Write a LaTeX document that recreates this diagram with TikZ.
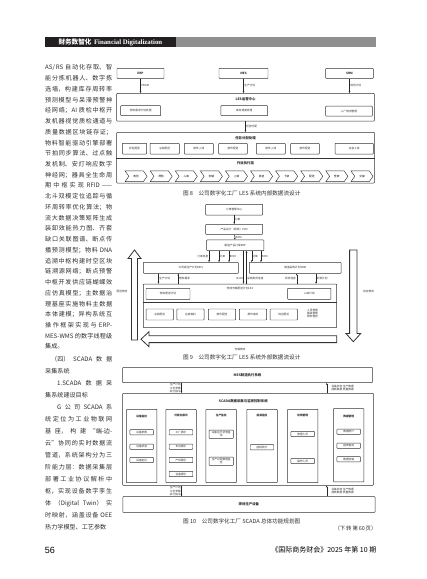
\documentclass[tikz,border=0pt]{standalone}
\usepackage{fontspec}
\setmainfont{Liberation Serif}
\newfontfamily\cjk{Noto Sans CJK SC}
\newfontfamily\numfont{Liberation Sans}
\XeTeXlinebreaklocale "zh"
\XeTeXlinebreakskip=0pt plus 1pt
\usetikzlibrary{shapes.symbols, arrows.meta, positioning, calc}
\definecolor{barGray}{HTML}{8F8F8F}
\definecolor{headBlack}{HTML}{231F20}
\definecolor{lineGray}{HTML}{333333}
\definecolor{textGray}{HTML}{2E2E2E}

\begin{document}
\begin{tikzpicture}[x=1pt, y=-1pt,
    tiny/.style={font=\cjk\fontsize{2.7}{3.3}\selectfont, inner sep=0.6pt, text=textGray},
    block/.style={rectangle, draw=lineGray, line width=0.45pt, inner sep=0pt, align=center,
                  rounded corners=0.6pt, font=\cjk\fontsize{2.7}{3.3}\selectfont, text=textGray},
    frame/.style={rectangle, draw=lineGray, line width=0.5pt, inner sep=0pt, rounded corners=0.6pt},
    heading/.style={font=\cjk\bfseries\fontsize{3.4}{4}\selectfont, inner sep=0pt, text=textGray},
    item/.style={block, minimum width=23.5pt, minimum height=5.3pt},
    panel/.style={frame, minimum width=30.5pt, minimum height=73.4pt},
    chev/.style={signal, signal from=west, signal to=east, signal pointer angle=110,
                 draw=lineGray, line width=0.45pt, minimum width=22pt, minimum height=10.7pt,
                 inner sep=0pt, font=\cjk\fontsize{2.7}{3.3}\selectfont},
    arrow/.style={-{Stealth[length=2pt, width=1.6pt]}, line width=0.4pt, black!85},
    flowarrow/.style={draw=lineGray, line width=0.8pt, fill=white, line join=miter},
    caption/.style={font=\cjk\fontsize{5.6}{6.5}\selectfont, inner sep=0pt, text=textGray},
    body/.style={anchor=north west, text width=67pt, align=justify, inner sep=0pt, text=textGray}
]
    \useasboundingbox (0,0) rectangle (427,579);
    \fill[white] (0,0) rectangle (427,579);

    % page header
    \node[fill=barGray, minimum width=199.7pt, minimum height=9.4pt, inner sep=0pt, anchor=west] (bar) at (176,42) {};
    \node[fill=headBlack, text=white, minimum width=131.7pt, minimum height=9.4pt, inner sep=0pt, anchor=west]
        (head) at (44.3,42) {{\cjk\bfseries\fontsize{6.6}{7}\selectfont 财务数智化}\ {\bfseries\fontsize{6.8}{7}\selectfont Financial Digitalization}};

    % body text
    \node[body, font=\cjk\fontsize{6.1}{10.73}\selectfont] (textA) at (45,64.6) {%
AS/RS 自动化存取、智\linebreak 能分拣机器人、数字拣\linebreak 选墙，构建库存周转率\linebreak
预测模型与呆滞预警神\linebreak 经网络；AI 质检中枢开\linebreak 发机器视觉质检通道与\linebreak
质量数据区块链存证；\linebreak 物料智能驱动引擎部署\linebreak 节拍同步算法、过点触\linebreak
发机制、安灯响应数字\linebreak 神经网；器具全生命周\linebreak 期中枢实现 RFID——\linebreak
北斗双模定位追踪与循\linebreak 环周转率优化算法；物\linebreak 流大数据决策矩阵生成\linebreak
装卸效能热力图、齐套\linebreak 缺口关联图谱、断点传\linebreak 播预测模型；物料 DNA\linebreak
追溯中枢构建时空区块\linebreak 链溯源网络；断点预警\linebreak 中枢开发供应链蝴蝶效\linebreak
应仿真模型；主数据治\linebreak 理基座实施物料主数据\linebreak 本体建模；异构系统互\linebreak
操作框架实现与 ERP-\linebreak MES-WMS 的数字线程级\linebreak 集成。};
    \node[body, font=\cjk\fontsize{6.1}{12}\selectfont] (textB) at (45,355.6) {%
\hspace*{6pt}（四）SCADA 数据\linebreak 采集系统\\
\hspace*{12pt}1.SCADA 数据采\linebreak 集系统建设目标\\
\hspace*{12pt}G 公司 SCADA 系\linebreak 统定位为工业物联网\linebreak 基座，构建“端-边-\linebreak
云”协同的实时数据流\linebreak 管道，系统架构分为三\linebreak 阶能力层：数据采集层\linebreak
部署工业协议解析中\linebreak 枢，实现设备数字孪生\linebreak 体（Digital Twin）实\linebreak
时映射，涵盖设备 OEE\linebreak 热力学模型、工艺参数};

    % figure 8
    \node[block, minimum width=47pt, minimum height=10pt, font=\cjk\bfseries\fontsize{3}{4}\selectfont] (erpA) at (140.5,73.3) {ERP};
    \node[block, minimum width=49pt, minimum height=10pt, font=\cjk\bfseries\fontsize{3}{4}\selectfont] (mesA) at (243.5,73.3) {MES};
    \node[block, minimum width=47.6pt, minimum height=10pt, font=\cjk\bfseries\fontsize{3}{4}\selectfont] (srmA) at (349.5,73.3) {SRM};
    \node[frame, minimum width=257.6pt, minimum height=27.7pt] (center) at (245.5,107.2) {};
    \node[heading] (centerT) at (245.5,99.3) {LES运营中心};
    \node[block, minimum width=40pt, minimum height=10pt] (mrp) at (140.7,110.7) {物料需求计划处理};
    \node[block, minimum width=46.7pt, minimum height=10pt] (stock) at (244.3,110.7) {库存调度处理};
    \node[block, minimum width=46.6pt, minimum height=10pt] (inbound) at (349,111.2) {入厂物流管理};
    \draw[arrow] (erpA) -- node[tiny, right] {PBOM} (erpA |- center.north);
    \draw[arrow] (mesA) -- node[tiny, right] {生产计划} (mesA |- center.north);
    \draw[arrow] (srmA) -- node[tiny, right] {到货计划} (srmA |- center.north);

    \node[frame, minimum width=257.6pt, minimum height=50.7pt] (task) at (245.5,157.65) {};
    \coordinate (split8) at (245.5,158.3);
    \draw[arrow] (center) -- node[tiny, right] {任务分配} (task);
    \node[heading] (taskT) at (245.5,138.3) {任务分配处理};
    \draw[lineGray, line width=0.5pt] (task.west |- split8) -- (task.east |- split8);
    \node[heading] (execT) at (245.5,163.7) {作业执行层};

    \node[block, minimum width=24.4pt, minimum height=10.7pt] (t1) at (134.5,148.7) {拆包配送};
    \node[block, minimum width=29.3pt, minimum height=10.7pt] (t2) at (164.7,148.7) {总装配送};
    \node[block, minimum width=29pt, minimum height=10.7pt] (t3) at (198.8,148.7) {部件上线};
    \node[block, minimum width=28.6pt, minimum height=10.7pt] (t4) at (233,148.7) {部件配送};
    \node[block, minimum width=29pt, minimum height=10.7pt] (t5) at (270.8,148.7) {部件上线};
    \node[block, minimum width=28.6pt, minimum height=10.7pt] (t6) at (305,148.7) {部件配送};
    \node[block, minimum width=38.3pt, minimum height=10.7pt] (t7) at (354.2,148.7) {总装上线};

    \node[chev] (s1) at (136.1,176.3) {收货};
    \node[chev] (s2) at (161.2,176.3) {质检};
    \node[chev] (s3) at (186.3,176.3) {入库};
    \node[chev] (s4) at (211.4,176.3) {存储};
    \node[chev] (s5) at (236.5,176.3) {上架};
    \node[chev] (s6) at (261.6,176.3) {拣选};
    \node[chev] (s7) at (286.7,176.3) {下架};
    \node[chev] (s8) at (311.8,176.3) {配送};
    \node[chev] (s9) at (336.9,176.3) {签收};
    \node[chev] (s10) at (362,176.3) {交接};

    \node[caption] (cap8) at (241.7,193.3) {图 8\quad 公司数字化工厂 LES 系统内部数据流设计};

    % figure 9
    \node[block, minimum width=57pt, minimum height=10.7pt] (order) at (234.2,209.7) {订单管理中心};
    \node[block, minimum width=57pt, minimum height=10pt] (plm) at (234.2,229.3) {产品设计（研发）PLM};
    \node[block, minimum width=57.3pt, minimum height=10.7pt] (erpB) at (235.3,245.3) {制造产品订单ERP};
    \node[block, minimum width=95pt, minimum height=11pt] (mesB) at (190.8,267.8) {公司级生产计划MES};
    \node[block, minimum width=91.7pt, minimum height=11pt] (srmB) at (295.2,267.8) {制造采购计划SRM};
    \node[frame, minimum width=193.4pt, minimum height=43.7pt] (les) at (240,305.85) {};
    \coordinate (split9) at (240,302.7);
    \node[tiny] (lesT) at (240,288.6) {物流仓储配送计划LES};
    \draw[lineGray, line width=0.5pt] (les.west |- split9) -- (les.east |- split9);
    \node[block, minimum width=44pt, minimum height=11pt] (plan) at (168,293.8) {物料配送计划};
    \node[block, minimum width=43.3pt, minimum height=11pt] (receive) at (309.3,293.8) {入库计划};
    \node[block, minimum width=27.3pt, minimum height=11pt] (j1) at (159.7,314.5) {总装配送};
    \node[block, minimum width=27.3pt, minimum height=11pt] (j2) at (190.5,314.5) {总装拣料};
    \node[block, minimum width=27.3pt, minimum height=11pt] (j3) at (222,314.5) {部件配送};
    \node[block, minimum width=27.3pt, minimum height=11pt] (j4) at (253,314.5) {部件拣料};
    \node[block, minimum width=27.3pt, minimum height=11pt] (j5) at (283.7,314.5) {线边配送};
    \node[tiny, align=center] (staff) at (312.5,313.5) {人员管理\\器具管理\\物料管控};

    \draw[arrow] (order) -- node[tiny, right] {订单} (plm);
    \draw[arrow] (plm) -- node[tiny, right] {BOM} (erpB);
    \draw[arrow] ([xshift=-26.3pt]erpB.south) -- node[tiny, left] {订单信息} ([xshift=-26.3pt]erpB.south |- mesB.north);
    \draw[arrow] ([xshift=-16.3pt]erpB.south) -- node[tiny, right] {订单} ([xshift=-16.3pt]erpB.south |- mesB.north);
    \draw[arrow] ([xshift=-6.3pt]erpB.south) -- node[tiny, right] {BOM} ([xshift=-6.3pt]erpB.south |- mesB.north);
    \draw[arrow] ([xshift=16.4pt]erpB.south) -- node[tiny, right] {订单} ([xshift=16.4pt]erpB.south |- srmB.north);
    \draw[arrow] ([xshift=25.6pt]erpB.south) -- node[tiny, right] {BOM} ([xshift=25.6pt]erpB.south |- srmB.north);
    \draw[arrow] ([xshift=8.2pt]erpB.south) -- node[tiny, left, pos=0.85] {BOM} ([xshift=8.2pt]erpB.south |- les.north);
    \draw[arrow] ([xshift=11.2pt]erpB.south |- les.north) -- node[tiny, right, pos=0.15] {采购到货信息} ([xshift=11.2pt]erpB.south);
    \draw[arrow] ([xshift=-32.3pt]mesB.south) -- node[tiny, right] {生产计划} ([xshift=-32.3pt]mesB.south |- les.north);
    \draw[arrow] ([xshift=-12.5pt]mesB.south |- les.north) -- node[tiny, right] {物料需求} ([xshift=-12.5pt]mesB.south);
    \draw[arrow] ([xshift=1.5pt]srmB.south |- les.north) -- node[tiny, left] {到货信息} ([xshift=1.5pt]srmB.south);
    \draw[arrow] ([xshift=20.8pt]srmB.south) -- node[tiny, right] {到货计划} ([xshift=20.8pt]srmB.south |- les.north);

    % hollow flow arrows
    \draw[flowarrow] (134.5,250) -- (141,258.5) -- (137.5,258.5) -- (137.5,340) -- (131.5,340)
        -- (131.5,258.5) -- (128,258.5) -- cycle;
    \draw[flowarrow] (353.3,341.7) -- (360.7,333.5) -- (357,333.5) -- (357,250) -- (349.6,250)
        -- (349.6,333.5) -- (346,333.5) -- cycle;
    \draw[flowarrow] (141,339.2) -- (149,331.7) -- (149,335.8) -- (336.7,335.8) -- (336.7,342.6)
        -- (149,342.6) -- (149,346.7) -- cycle;
    \node[tiny] (backflow) at (122,291) {配送物流};
    \node[tiny] (supplyflow) at (368.5,291) {供应物流};
    \node[tiny] (storeflow) at (240,349.3) {仓储物流};

    \node[caption] (cap9) at (241.7,357.4) {图 9\quad 公司数字化工厂 LES 系统外部数据流设计};

    % figure 10
    \node[frame, minimum width=249.6pt, minimum height=15.4pt] (mesC) at (247.5,375) {};
    \node[heading] (mesCT) at (247.5,375) {MES制造执行系统};
    \node[frame, minimum width=250.6pt, minimum height=92pt] (scada) at (248,439.3) {};
    \node[heading] (scadaT) at (243.3,400.7) {SCADA数据采集与监视控制系统};
    \node[frame, minimum width=252.3pt, minimum height=15.6pt] (field) at (248.9,504.5) {};
    \node[heading] (fieldT) at (248.9,504.5) {现场生产设备};

    \node[panel] (p1) at (141.7,446) {};
    \node[panel] (p2) at (181,446) {};
    \node[panel] (p3) at (221.2,446) {};
    \node[panel] (p4) at (262,446) {};
    \node[panel] (p5) at (302.7,446) {};
    \node[panel] (p6) at (348.7,445.2) {};
    \node[tiny, font=\cjk\bfseries\fontsize{2.7}{3.3}\selectfont] (p1T) at (141.7,416) {设备监控};
    \node[tiny, font=\cjk\bfseries\fontsize{2.7}{3.3}\selectfont] (p2T) at (181,415) {可视化展示};
    \node[tiny, font=\cjk\bfseries\fontsize{2.7}{3.3}\selectfont] (p3T) at (221.2,415) {生产监控};
    \node[tiny, font=\cjk\bfseries\fontsize{2.7}{3.3}\selectfont] (p4T) at (262,415) {能源监控};
    \node[tiny, font=\cjk\bfseries\fontsize{2.7}{3.3}\selectfont] (p5T) at (302.7,415) {权限管理};
    \node[tiny, font=\cjk\bfseries\fontsize{2.7}{3.3}\selectfont] (p6T) at (348.7,416.5) {数据管理};

    \node[item] (a1) at (141.7,432.3) {设备参数};
    \node[item] (a2) at (141.7,446.7) {设备状态};
    \node[item] (a3) at (141.7,460) {设备定位};
    \node[item] (b1) at (181,432.3) {工厂展示};
    \node[item] (b2) at (181,446.7) {车间展示};
    \node[item] (b3) at (181,460) {产线展示};
    \node[item] (b4) at (181,474) {设备展示};
    \node[item, minimum height=8.3pt, minimum width=24.3pt] (c1) at (221.2,434.2) {设备运行状态监\\测};
    \node[item, minimum height=8.3pt, minimum width=24.3pt] (c2) at (221.2,461.2) {生产过程数据监\\控};
    \node[item] (d1) at (262,447.3) {能耗统计};
    \node[item] (e1) at (302.7,434) {管理人员};
    \node[item] (e2) at (302.7,461) {操作人员};
    \node[item] (f1) at (348.7,431.7) {数据统计};
    \node[item] (f2) at (348.7,445.7) {报表查询};
    \node[item] (f3) at (348.7,459.3) {数据存储};

    \draw[arrow] ([xshift=-66pt]mesC.south) -- node[tiny, left, align=center] {生产计划\\工艺参数\\执行指令} ([xshift=-66pt]mesC.south |- scada.north);
    \draw[arrow] ([xshift=79.2pt]mesC.south |- scada.north) -- node[tiny, right, align=left, xshift=4pt] {设备状态\ 生产数据\\能耗数据\ 质量数据} ([xshift=79.2pt]mesC.south);
    \draw[arrow] ([xshift=-66.5pt]scada.south) -- node[tiny, left, align=center] {生产计划\\工艺参数\\执行指令} ([xshift=-66.5pt]scada.south |- field.north);
    \draw[arrow] ([xshift=78.7pt]scada.south |- field.north) -- node[tiny, right, align=left, xshift=4pt] {设备状态\ 生产数据\\能耗数据\ 质量数据} ([xshift=78.7pt]scada.south);

    \node[caption] (cap10) at (241.7,521.8) {图 10\quad 公司数字化工厂 SCADA 总体功能规划图};

    % page footer
    \node[font=\cjk\fontsize{5.4}{6}\selectfont, text=textGray, anchor=east, inner sep=0pt] (cont) at (376.7,528.3) {（下\,转\,第\,60\,页）};
    \node[font=\numfont\fontsize{9}{10}\selectfont, anchor=west, inner sep=0pt] (pagenum) at (44.6,550.5) {56};
    \node[font=\cjk\fontsize{7}{8}\selectfont, anchor=east, inner sep=0pt] (journal) at (376.5,549.5) {《国际商务财会》2025 年第 10 期};
\end{tikzpicture}
\end{document}
